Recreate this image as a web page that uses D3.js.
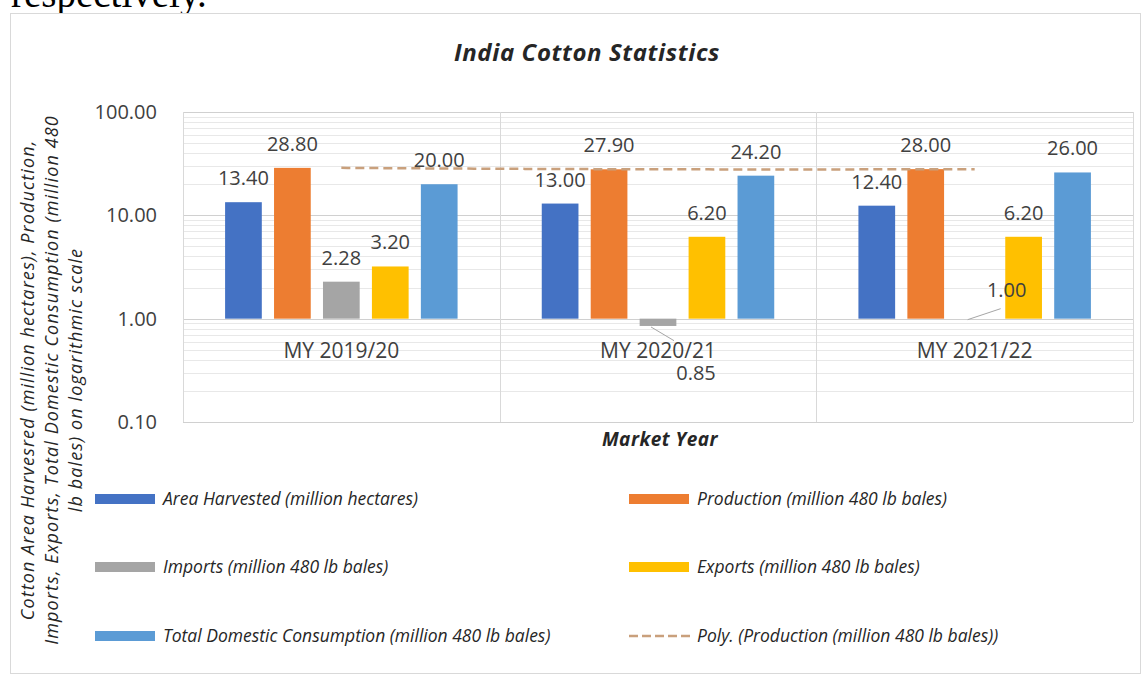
<!DOCTYPE html>
<html>
<head>
<meta charset="utf-8">
<script src="https://cdn.jsdelivr.net/npm/d3@7"></script>
<style>
  html, body { margin: 0; padding: 0; background: #ffffff; }
  svg { display: block; }
  text { font-family: "Open Sans", "Noto Sans", sans-serif; }
</style>
</head>
<body>
<svg id="chart" width="1146" height="677"></svg>
<script>
// ---- data ----
const categories = ["MY 2019/20", "MY 2020/21", "MY 2021/22"];
const seriesNames = [
  "Area Harvested (million hectares)",
  "Production (million 480 lb bales)",
  "Imports (million 480 lb bales)",
  "Exports (million 480 lb bales)",
  "Total Domestic Consumption (million 480 lb bales)"
];
const areaHarvested = [13.40, 13.00, 12.40];
const production    = [28.80, 27.90, 28.00];
const imports       = [2.28, 0.85, 1.00];
const exportsVals   = [3.20, 6.20, 6.20];
const consumption   = [20.00, 24.20, 26.00];
const yTicks = [0.1, 1, 10, 100];
const trendName = "Poly. (Production (million 480 lb bales))";
const chartTitle = "India Cotton Statistics";
const xTitle = "Market Year";
const yTitleLines = [
  "Cotton Area Harvesred (million hectares), Production,",
  "Imports, Exports, Total Domestic Consumption (million 480",
  "lb bales) on logarithmic scale"
];
const introText = "respectively.";

// ---- styles ----
const colors = ["#4472C4", "#ED7D31", "#A5A5A5", "#FFC000", "#5B9BD5"];
const trendColor = "#c9a07c";
const textColor = "#404040";

const seriesValues = [areaHarvested, production, imports, exportsVals, consumption];

const svg = d3.select("#chart");

// intro text clipped at top
svg.append("text").attr("x", 11).attr("y", 7)
  .style("font-family", "'Liberation Serif', 'DejaVu Serif', serif")
  .style("font-size", "39px").attr("fill", "#000").text(introText);

// chart border
svg.append("rect").attr("x", 10.5).attr("y", 13.5).attr("width", 1130).attr("height", 660)
  .attr("fill", "#fff").attr("stroke", "#d9d9d9").attr("stroke-width", 1);

const plot = { left: 183, right: 1133, top: 112, bottom: 422 };

const y = d3.scaleLog().domain([0.1, 100]).range([plot.bottom, plot.top]);
const x0 = d3.scaleBand().domain(categories).range([plot.left, plot.right]).padding(0);
const x1 = d3.scaleBand().domain(d3.range(seriesNames.length))
  .range([0, x0.bandwidth()]).paddingInner(0.25).paddingOuter(0.86);

// minor gridlines
const minor = [];
for (let e = -1; e < 2; e++) for (let m = 2; m <= 9; m++) minor.push(m * Math.pow(10, e));
svg.append("g").selectAll("line").data(minor).join("line")
  .attr("x1", plot.left).attr("x2", plot.right)
  .attr("y1", d => Math.round(y(d)) + 0.5).attr("y2", d => Math.round(y(d)) + 0.5)
  .attr("stroke", "#e8e8e8").attr("stroke-width", 1);
// major gridlines
svg.append("g").selectAll("line").data(yTicks).join("line")
  .attr("x1", plot.left).attr("x2", plot.right)
  .attr("y1", d => Math.round(y(d)) + 0.5).attr("y2", d => Math.round(y(d)) + 0.5)
  .attr("stroke", "#d0d0d0").attr("stroke-width", 1);
// vertical category separators
const seps = categories.map(c => x0(c)).concat([plot.right]);
svg.append("g").selectAll("line").data(seps).join("line")
  .attr("x1", d => Math.round(d) + 0.5).attr("x2", d => Math.round(d) + 0.5)
  .attr("y1", plot.top).attr("y2", plot.bottom)
  .attr("stroke", "#d9d9d9").attr("stroke-width", 1);

// y axis labels
const yAxis = d3.axisLeft(y).tickValues(yTicks).tickFormat(d3.format(".2f")).tickSize(0).tickPadding(0);
const yg = svg.append("g").attr("transform", `translate(157,0)`).call(yAxis);
yg.select(".domain").remove();
yg.selectAll("text").style("font-size", "20px").attr("fill", textColor)
  .style("font-family", "'Open Sans', sans-serif");

// bars
const barData = [];
categories.forEach((c, ci) => seriesValues.forEach((vals, si) => barData.push({ c, ci, si, v: vals[ci] })));
svg.append("g").selectAll("rect").data(barData).join("rect")
  .attr("x", d => x0(d.c) + x1(d.si))
  .attr("width", x1.bandwidth())
  .attr("y", d => Math.min(y(d.v), y(1)))
  .attr("height", d => Math.abs(y(d.v) - y(1)))
  .attr("fill", d => colors[d.si]);

// category labels
svg.append("g").selectAll("text").data(categories).join("text")
  .attr("x", c => x0(c) + x0.bandwidth() / 2).attr("y", y(1) + 39)
  .attr("text-anchor", "middle").style("font-size", "21px").attr("fill", textColor)
  .text(c => c);

// polynomial (order 2) trendline through production values
const px = d3.range(production.length);
function poly(t) {
  let s = 0;
  for (let i = 0; i < px.length; i++) {
    let l = 1;
    for (let j = 0; j < px.length; j++) if (j !== i) l *= (t - px[j]) / (px[i] - px[j]);
    s += production[i] * l;
  }
  return s;
}
const step = x0.step();
const xc = t => x0(categories[0]) + x0.bandwidth() / 2 + t * step;
const tPts = d3.range(0, 2.0001, 0.02);
svg.append("path").datum(tPts)
  .attr("d", d3.line().x(t => xc(t)).y(t => y(poly(t))))
  .attr("fill", "none").attr("stroke", trendColor).attr("stroke-width", 2.5)
  .attr("stroke-dasharray", "9,5");

// data labels (special placement for labels moved off small bars)
const moved = { "2-1": { dx: 38, dy: 54 }, "2-2": { dx: 32, dy: -29 } };
const lg = svg.append("g");
barData.forEach(d => {
  const cx = x0(d.c) + x1(d.si) + x1.bandwidth() / 2;
  const key = d.si + "-" + d.ci;
  const label = d3.format(".2f")(d.v);
  if (moved[key]) {
    const m = moved[key];
    const lx = cx + m.dx, ly = y(1) + m.dy;
    const sx = cx - 7, sy = d.v < 1 ? y(d.v) + 1 : y(1) + 1;
    const ex = m.dy > 0 ? lx - 22 : lx - 6;
    const ey = m.dy > 0 ? ly - 32 : ly + 19;
    lg.append("line").attr("x1", sx).attr("y1", sy).attr("x2", ex).attr("y2", ey)
      .attr("stroke", "#a6a6a6").attr("stroke-width", 1);
    lg.append("text").attr("x", lx).attr("y", ly + 7).attr("text-anchor", "middle")
      .style("font-size", "20px").attr("fill", textColor).text(label);
  } else {
    lg.append("text").attr("x", cx).attr("y", y(d.v) - 17).attr("text-anchor", "middle")
      .style("font-size", "20px").attr("fill", textColor).text(label);
  }
});

// titles
svg.append("text").attr("x", 587).attr("y", 61).attr("text-anchor", "middle")
  .style("font-size", "24px").style("font-weight", "bold").style("font-style", "italic")
  .style("letter-spacing", "0.6px")
  .attr("fill", "#262626").text(chartTitle);
svg.append("text").attr("x", 660).attr("y", 446).attr("text-anchor", "middle")
  .style("font-size", "19px").style("font-weight", "bold").style("font-style", "italic")
  .style("letter-spacing", "0.5px")
  .attr("fill", "#262626").text(xTitle);
const yt = svg.append("g");
const yTitleX = [34, 58, 82];
yTitleLines.forEach((ln, i) => {
  yt.append("text").attr("transform", `translate(${yTitleX[i]},380) rotate(-90)`)
    .attr("text-anchor", "middle").style("font-size", "18px").style("font-style", "italic")
    .style("letter-spacing", "1.1px")
    .attr("fill", "#262626").text(ln);
});

// legend
const legendItems = seriesNames.map((n, i) => ({ name: n, type: "bar", color: colors[i] }))
  .concat([{ name: trendName, type: "line", color: trendColor }]);
const colX = [95, 629];
const rowY = [499, 567, 636];
const leg = svg.append("g");
legendItems.forEach((it, i) => {
  const cx = colX[i % 2], cy = rowY[Math.floor(i / 2)];
  if (it.type === "bar") {
    leg.append("rect").attr("x", cx).attr("y", cy - 5).attr("width", 60).attr("height", 10).attr("fill", it.color);
  } else {
    leg.append("line").attr("x1", cx).attr("x2", cx + 62).attr("y1", cy).attr("y2", cy)
      .attr("stroke", it.color).attr("stroke-width", 2.5).attr("stroke-dasharray", "9,4");
  }
  leg.append("text").attr("x", cx + 68).attr("y", cy + 6)
    .style("font-size", "17.5px").style("font-style", "italic")
    .attr("fill", "#262626").text(it.name);
});
</script>
</body>
</html>
